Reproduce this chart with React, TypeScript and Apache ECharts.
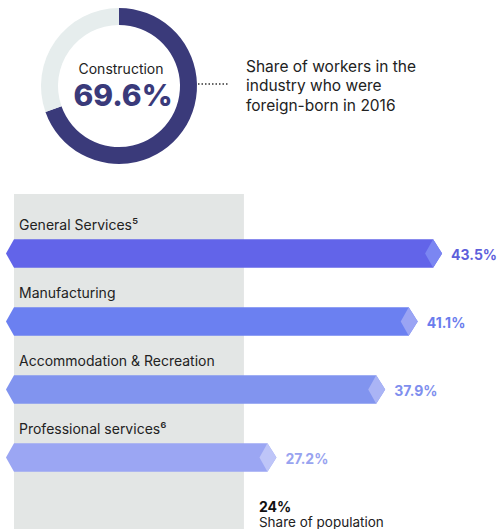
import React, { useEffect, useRef } from "react";
import * as echarts from "echarts";

const categories = [
  "General Services⁵",
  "Manufacturing",
  "Accommodation & Recreation",
  "Professional services⁶",
];
const values = [43.5, 41.1, 37.9, 27.2];
const barColors = ["#6264e9", "#6b80f1", "#8194ef", "#9ba6f3"];
const capColors = ["#7b86f2", "#9aa4f4", "#aab4f5", "#bec5f8"];
const labelColors = ["#5e5fdb", "#6a7ced", "#7f8fee", "#98a3f0"];
const populationShare = 24;
const constructionShare = 69.6;
const donutLabel = "Construction";
const noteLines = ["Share of workers in the", "industry who were", "foreign-born in 2016"];
const populationLabel = "Share of population";

const FONT = "Inter, 'Noto Sans', sans-serif";

export default function App() {
  const ref = useRef<HTMLDivElement>(null);
  useEffect(() => {
    document.body.style.margin = "0";
    const chart = echarts.init(ref.current!, null, { renderer: "svg" });
    const option: any = {
      animation: false,
      backgroundColor: "#ffffff",
      grid: { left: -2, right: 0, top: 219.5, bottom: 37.5, containLabel: false },
      xAxis: { type: "value", min: 0, max: 48.9, show: false },
      yAxis: { type: "category", data: categories, inverse: true, show: false },
      graphic: [
        {
          type: "text",
          x: 121,
          y: 68,
          style: {
            text: donutLabel,
            fontSize: 14,
            fontFamily: FONT,
            fill: "#222222",
            align: "center",
            verticalAlign: "middle",
          },
        },
        {
          type: "text",
          x: 123,
          y: 95,
          style: {
            text: constructionShare.toFixed(1) + "%",
            fontSize: 30,
            fontWeight: 800,
            fontFamily: FONT,
            fill: "#3a3a7a",
            align: "center",
            verticalAlign: "middle",
          },
        },
        {
          type: "line",
          shape: { x1: 198, y1: 84, x2: 229, y2: 84 },
          style: { stroke: "#333333", lineWidth: 1.5, lineDash: [1.5, 2] },
        },
        {
          type: "text",
          x: 246,
          y: 85.5,
          style: {
            text: noteLines.join("\n"),
            fontSize: 15.5,
            lineHeight: 19.5,
            fontFamily: FONT,
            fill: "#222222",
            verticalAlign: "middle",
          },
        },
      ],
      series: [
        {
          type: "pie",
          center: [119, 86],
          radius: [61, 78],
          startAngle: 90,
          clockwise: true,
          silent: true,
          label: { show: false },
          labelLine: { show: false },
          emphasis: { disabled: true },
          data: [
            { value: constructionShare, itemStyle: { color: "#3a3a7a" } },
            { value: 100 - constructionShare, itemStyle: { color: "#e6eded" } },
          ],
        },
        {
          type: "custom",
          z: 1,
          silent: true,
          clip: false,
          data: [[populationShare, 0]],
          renderItem: (params: any, api: any) => {
            const cs = params.coordSys;
            const x0 = api.coord([0, 0])[0] + 14;
            const x1 = api.coord([api.value(0), 0])[0];
            const top = cs.y - 25.5;
            const bottom = cs.y + cs.height + 60;
            return {
              type: "group",
              children: [
                {
                  type: "rect",
                  shape: { x: x0, y: top, width: x1 - x0, height: bottom - top },
                  style: { fill: "#e3e6e5" },
                },
                {
                  type: "text",
                  x: x1 + 15,
                  y: cs.y + cs.height + 15,
                  style: {
                    text: api.value(0) + "%",
                    fontSize: 14,
                    lineHeight: 14,
                    fontWeight: "bold",
                    fontFamily: FONT,
                    fill: "#111111",
                    verticalAlign: "middle",
                  },
                },
                {
                  type: "text",
                  x: x1 + 15,
                  y: cs.y + cs.height + 30.5,
                  style: {
                    text: populationLabel,
                    fontSize: 13.5,
                    lineHeight: 13.5,
                    fontFamily: FONT,
                    fill: "#222222",
                    verticalAlign: "middle",
                  },
                },
              ],
            };
          },
        },
        {
          type: "custom",
          z: 2,
          silent: true,
          clip: false,
          encode: { x: 0, y: 1 },
          data: values.map((v, i) => [v, i]),
          renderItem: (params: any, api: any) => {
            const i = api.value(1);
            const tip = api.coord([api.value(0), i]);
            const base = api.coord([0, i]);
            const cy = tip[1];
            const h = 14.25;
            const left = base[0] + 6;
            const tx = tip[0];
            return {
              type: "group",
              children: [
                {
                  type: "polygon",
                  shape: {
                    points: [
                      [left, cy],
                      [left + 8, cy - h],
                      [tx - 9, cy - h],
                      [tx, cy],
                      [tx - 9, cy + h],
                      [left + 8, cy + h],
                    ],
                  },
                  style: { fill: barColors[i] },
                },
                {
                  type: "polygon",
                  shape: {
                    points: [
                      [tx - 17, cy],
                      [tx - 9, cy - h],
                      [tx, cy],
                      [tx - 9, cy + h],
                    ],
                  },
                  style: { fill: capColors[i] },
                },
                {
                  type: "text",
                  x: tx + 9,
                  y: cy + 1,
                  style: {
                    text: values[i].toFixed(1) + "%",
                    fontSize: 14,
                    fontWeight: "bold",
                    fontFamily: FONT,
                    fill: labelColors[i],
                    verticalAlign: "middle",
                  },
                },
                {
                  type: "text",
                  x: left + 13,
                  y: cy - 29.5,
                  style: {
                    text: categories[i],
                    fontSize: 14,
                    fontFamily: FONT,
                    fill: "#222222",
                    verticalAlign: "middle",
                  },
                },
              ],
            };
          },
        },
      ],
    };
    chart.setOption(option);
    return () => chart.dispose();
  }, []);
  return (
    <div
      ref={ref}
      style={{ position: "fixed", left: 0, top: 0, width: 497, height: 529 }}
    />
  );
}
